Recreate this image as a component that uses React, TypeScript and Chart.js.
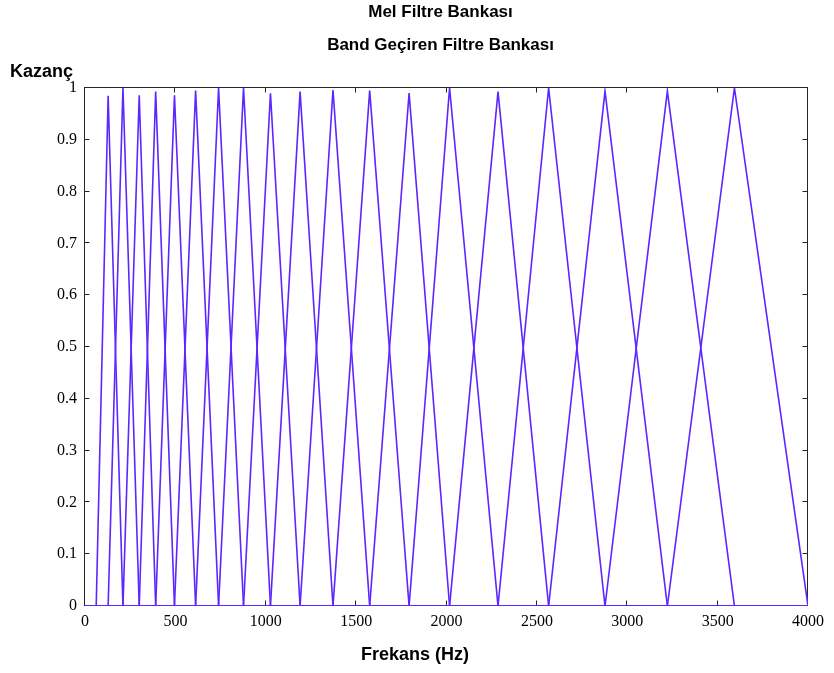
import React, { useEffect, useRef } from "react";
import { Chart, registerables } from "chart.js";

Chart.register(...registerables);

// Filter band edges (Hz): filter i rises from edge[i], peaks at edge[i+1], falls to edge[i+2]
const filterEdgesHz = [62, 128, 210, 300, 391, 495, 612, 739, 877, 1026, 1190, 1372, 1575, 1793, 2017, 2285, 2565, 2877, 3222, 3593, 4000];
// Peak gain of each of the 19 filters
const peakGains = [0.985, 1.0, 0.986, 0.993, 0.986, 0.995, 1.0, 1.0, 0.99, 0.993, 0.996, 0.995, 0.99, 1.0, 0.993, 1.0, 0.994, 0.994, 1.0];

const xTickValues = [0, 500, 1000, 1500, 2000, 2500, 3000, 3500, 4000];
const yTickValues = [0, 0.1, 0.2, 0.3, 0.4, 0.5, 0.6, 0.7, 0.8, 0.9, 1];

const titleLines = ["Mel Filtre Bankası", "Band Geçiren Filtre Bankası"];
const xAxisTitle = "Frekans (Hz)";
const yAxisTitle = "Kazanç";

const X_MIN = 0;
const X_MAX = 4000;

const SANS = "'Liberation Sans', Arial, sans-serif";
const SERIF = "'Liberation Serif', 'Times New Roman', serif";
const LINE_COLOR = "rgb(94, 38, 255)";

const framePlugin = {
  id: "frameAndTexts",
  beforeDatasetsDraw(chart: any) {
    const { ctx, chartArea: a, scales } = chart;
    ctx.save();
    ctx.strokeStyle = "#262626";
    ctx.lineWidth = 1;
    const l = Math.round(a.left) - 0.5;
    const r = Math.round(a.right) - 0.5;
    const t = Math.round(a.top) - 0.5;
    const b = Math.round(a.bottom) - 0.5;
    ctx.strokeRect(l, t, r - l, b - t);
    const tl = 5;
    ctx.beginPath();
    for (const v of xTickValues) {
      const px = Math.round(scales.x.getPixelForValue(v)) - 0.5;
      ctx.moveTo(px, b);
      ctx.lineTo(px, b - tl);
      ctx.moveTo(px, t);
      ctx.lineTo(px, t + tl);
    }
    for (const v of yTickValues) {
      const py = Math.round(scales.y.getPixelForValue(v)) - 0.5;
      ctx.moveTo(l, py);
      ctx.lineTo(l + tl, py);
      ctx.moveTo(r, py);
      ctx.lineTo(r - tl, py);
    }
    ctx.stroke();
    ctx.restore();
  },
  afterDraw(chart: any) {
    const { ctx, chartArea: a } = chart;
    ctx.save();
    ctx.fillStyle = "#000";
    ctx.textBaseline = "middle";
    ctx.font = `bold 17px ${SANS}`;
    ctx.textAlign = "center";
    const cx = (a.left + a.right) / 2 - 6;
    ctx.fillText(titleLines[0], cx, a.top - 76);
    ctx.fillText(titleLines[1], cx, a.top - 43);
    ctx.font = `bold 18px ${SANS}`;
    ctx.textAlign = "left";
    ctx.fillText(yAxisTitle, a.left - 75, a.top - 16);
    ctx.textAlign = "center";
    ctx.fillText(xAxisTitle, a.left + 330, a.bottom + 49);
    ctx.restore();
  },
};

export default function App() {
  const canvasRef = useRef<HTMLCanvasElement | null>(null);

  useEffect(() => {
    const canvas = canvasRef.current;
    if (!canvas) return;

    const datasets = peakGains.map((g, i) => ({
      label: `Filtre ${i + 1}`,
      data: [
        { x: X_MIN, y: 0 },
        { x: filterEdgesHz[i], y: 0 },
        { x: filterEdgesHz[i + 1], y: g },
        { x: filterEdgesHz[i + 2], y: 0 },
        { x: X_MAX, y: 0 },
      ],
      showLine: true,
      borderColor: LINE_COLOR,
      backgroundColor: LINE_COLOR,
      borderWidth: 1.6,
      pointRadius: 0,
      pointHoverRadius: 0,
      fill: false,
      tension: 0,
    }));

    const chart = new Chart(canvas, {
      type: "scatter",
      data: { datasets },
      options: {
        animation: false,
        responsive: false,
        maintainAspectRatio: false,
        layout: { padding: { top: 88, right: 26, bottom: 0, left: 0 } },
        plugins: {
          legend: { display: false },
          title: { display: false },
          tooltip: { enabled: false },
        },
        scales: {
          x: {
            type: "linear",
            min: X_MIN,
            max: X_MAX,
            grid: { display: false, drawTicks: false },
            border: { display: false },
            afterBuildTicks: (scale: any) => {
              scale.ticks = xTickValues.map((v) => ({ value: v }));
            },
            afterFit: (scale: any) => {
              scale.height = 67;
            },
            ticks: {
              padding: 6,
              color: "#000",
              font: { family: SERIF, size: 16 },
              maxRotation: 0,
              autoSkip: false,
              callback: (v: any) => String(v),
            },
            title: { display: false },
          },
          y: {
            type: "linear",
            min: 0,
            max: 1,
            grid: { display: false, drawTicks: false },
            border: { display: false },
            afterBuildTicks: (scale: any) => {
              scale.ticks = yTickValues.map((v) => ({ value: v }));
            },
            afterFit: (scale: any) => {
              scale.width = 85;
            },
            ticks: {
              padding: 8,
              color: "#000",
              font: { family: SERIF, size: 16 },
              autoSkip: false,
              callback: (v: any) => String(Number(Number(v).toFixed(1))),
            },
          },
        },
      },
      plugins: [framePlugin],
    } as any);

    return () => chart.destroy();
  }, []);

  return (
    <div style={{ position: "absolute", left: 0, top: 0, width: 834, height: 673, background: "#fff" }}>
      <canvas ref={canvasRef} width={834} height={673} style={{ display: "block" }} />
    </div>
  );
}
